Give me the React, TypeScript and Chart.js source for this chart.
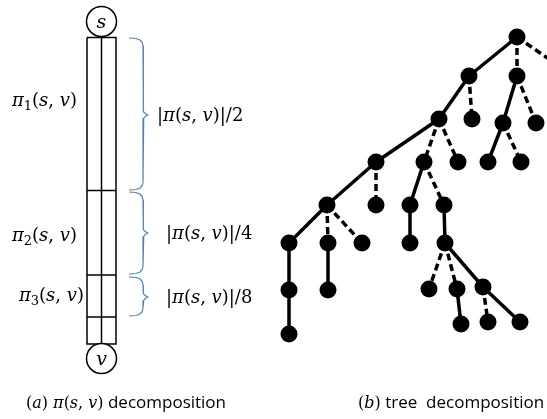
import React, { useEffect, useRef } from "react";
import { Chart, registerables } from "chart.js";

Chart.register(...registerables);

const W = 547;
const H = 419;

// ---- tree decomposition (panel b) ----
const nodeX = [517, 469, 517, 439, 472, 503, 536, 376, 424, 458, 488, 521, 327, 376, 410, 444, 289, 328, 362, 410, 445, 289, 328, 429, 457, 483, 289, 461, 488, 520];
const nodeY = [37, 76, 76, 119, 119, 123, 123, 162, 162, 162, 162, 162, 205, 205, 205, 205, 243, 243, 243, 243, 243, 290, 290, 289, 289, 287, 334, 324, 322, 322];
const solidEdges: [number, number][] = [
  [0, 1], [1, 3], [3, 7], [7, 12], [12, 16], [16, 21], [21, 26], [17, 22],
  [2, 5], [5, 10], [8, 14], [14, 19], [15, 20], [20, 25], [25, 29], [24, 27],
];
const dashedEdges: [number, number][] = [
  [0, 2], [1, 4], [3, 8], [3, 9], [2, 6], [5, 11], [7, 13], [8, 15],
  [12, 17], [12, 18], [20, 23], [20, 24], [25, 28],
];
// dashed edge leaving the picture at the right
const stubFrom = [0];
const stubToX = [562];
const stubToY = [68];

// ---- path decomposition (panel a) ----
const colLeft = 87;
const colMid = 101.5;
const colRight = 116;
const colTop = 37.5;
const colBottom = 344;
const colDividers = [190.5, 275, 317];
const endX = [101.5, 101.5];
const endY = [21.5, 358.5];

const braceTop = [38, 192, 277];
const braceBottom = [190, 274, 316];
const braceMid = [115, 233, 297];

// ---- texts ----
const labelMath = ["π_1(s, v)", "π_2(s, v)", "π_3(s, v)", "|π(s, v)|/2", "|π(s, v)|/4", "|π(s, v)|/8", "s", "v", "(a) π(s, v)", "(b)"];
const labelSans = ["", "", "", "", "", "", "", "", " decomposition", " tree  decomposition"];
const labelX = [12, 12, 19, 157, 166, 166, 101.5, 101.5, 26, 358];
const labelY = [100, 235, 295, 115, 233, 297, 21.5, 358.5, 402, 402];
const labelSize = [18, 18, 18, 18, 18, 18, 19, 19, 16, 16];
const labelCenter = [false, false, false, false, false, false, true, true, false, false];

const MATH_FONT = '"DejaVu Serif", serif';
const SANS_FONT = '"Open Sans", "Liberation Sans", sans-serif';
const SANS_SIZE = 17;

type Seg = { t: string; style: "i" | "r" | "sub" | "sans" };

function parseMath(s: string): Seg[] {
  const out: Seg[] = [];
  for (let i = 0; i < s.length; i++) {
    const c = s[i];
    if (c === "_") {
      out.push({ t: s[i + 1], style: "sub" });
      i++;
      continue;
    }
    if (/[a-zπ]/.test(c)) out.push({ t: c, style: "i" });
    else out.push({ t: c, style: "r" });
  }
  return out;
}

function fontFor(seg: Seg, size: number) {
  if (seg.style === "i") return `italic ${size}px ${MATH_FONT}`;
  if (seg.style === "sub") return `${Math.round(size * 0.7)}px ${MATH_FONT}`;
  if (seg.style === "sans") return `${SANS_SIZE}px ${SANS_FONT}`;
  return `${size}px ${MATH_FONT}`;
}

const textPlugin = {
  id: "texts",
  afterDatasetsDraw(chart: any) {
    const ctx = chart.ctx as CanvasRenderingContext2D;
    const xs = chart.scales.x;
    const ys = chart.scales.y;
    ctx.save();
    ctx.fillStyle = "#000";
    ctx.textBaseline = "alphabetic";
    ctx.textAlign = "left";
    labelMath.forEach((m, i) => {
      const size = labelSize[i];
      const segs = parseMath(m);
      if (labelSans[i]) segs.push({ t: labelSans[i], style: "sans" });
      let total = 0;
      const widths = segs.map((s) => {
        ctx.font = fontFor(s, size);
        const w = ctx.measureText(s.t).width;
        total += w;
        return w;
      });
      let x = xs.getPixelForValue(labelX[i]);
      if (labelCenter[i]) x -= total / 2;
      const base = ys.getPixelForValue(labelY[i]) + size * 0.35;
      segs.forEach((s, k) => {
        ctx.font = fontFor(s, size);
        ctx.fillText(s.t, x, s.style === "sub" ? base + size * 0.22 : base);
        x += widths[k];
      });
    });
    ctx.restore();
  },
};

function bracePoints(top: number, bottom: number, mid: number) {
  const x0 = 129;
  const xs = 143;
  const xt = 148;
  return [
    { x: x0, y: top },
    { x: x0 + 7, y: top + 0.5 },
    { x: x0 + 11, y: top + 2 },
    { x: xs - 0.7, y: top + 4.5 },
    { x: xs, y: top + 8 },
    { x: xs, y: mid - 7 },
    { x: xs + 0.7, y: mid - 3.5 },
    { x: xs + 2.5, y: mid - 1.2 },
    { x: xt, y: mid },
    { x: xs + 2.5, y: mid + 1.2 },
    { x: xs + 0.7, y: mid + 3.5 },
    { x: xs, y: mid + 7 },
    { x: xs, y: bottom - 8 },
    { x: xs - 0.7, y: bottom - 4.5 },
    { x: x0 + 11, y: bottom - 2 },
    { x: x0 + 7, y: bottom - 0.5 },
    { x: x0, y: bottom },
  ];
}

export default function App() {
  const ref = useRef<HTMLCanvasElement>(null);

  useEffect(() => {
    const canvas = ref.current;
    if (!canvas) return;
    const datasets: any[] = [];
    const lineDs = (data: { x: number; y: number }[], opts: any) => ({
      data,
      showLine: true,
      pointRadius: 0,
      pointHoverRadius: 0,
      fill: false,
      order: 2,
      ...opts,
    });

    // tree nodes
    datasets.push({
      data: nodeX.map((x, i) => ({ x, y: nodeY[i] })),
      showLine: false,
      pointRadius: 8.5,
      pointHoverRadius: 8.5,
      pointBackgroundColor: "#000",
      pointBorderColor: "#000",
      pointBorderWidth: 0,
      order: 0,
    });
    // end circles s, v
    datasets.push({
      data: endX.map((x, i) => ({ x, y: endY[i] })),
      showLine: false,
      pointRadius: 15,
      pointHoverRadius: 15,
      pointBackgroundColor: "#fff",
      pointBorderColor: "#000",
      pointBorderWidth: 1.5,
      order: 0,
    });
    solidEdges.forEach(([a, b]) =>
      datasets.push(
        lineDs(
          [
            { x: nodeX[a], y: nodeY[a] },
            { x: nodeX[b], y: nodeY[b] },
          ],
          { borderColor: "#000", borderWidth: 3.5 }
        )
      )
    );
    dashedEdges.forEach(([a, b]) =>
      datasets.push(
        lineDs(
          [
            { x: nodeX[a], y: nodeY[a] },
            { x: nodeX[b], y: nodeY[b] },
          ],
          { borderColor: "#000", borderWidth: 3.5, borderDash: [7, 4] }
        )
      )
    );
    stubFrom.forEach((a, i) =>
      datasets.push(
        lineDs(
          [
            { x: nodeX[a], y: nodeY[a] },
            { x: stubToX[i], y: stubToY[i] },
          ],
          { borderColor: "#000", borderWidth: 3.5, borderDash: [7, 4] }
        )
      )
    );
    // column
    datasets.push(
      lineDs(
        [
          { x: colLeft, y: colTop },
          { x: colRight, y: colTop },
          { x: colRight, y: colBottom },
          { x: colLeft, y: colBottom },
          { x: colLeft, y: colTop },
        ],
        { borderColor: "#000", borderWidth: 1.5 }
      )
    );
    datasets.push(
      lineDs(
        [
          { x: colMid, y: colTop },
          { x: colMid, y: colBottom },
        ],
        { borderColor: "#000", borderWidth: 1.5 }
      )
    );
    colDividers.forEach((y) =>
      datasets.push(
        lineDs(
          [
            { x: colLeft, y },
            { x: colRight, y },
          ],
          { borderColor: "#000", borderWidth: 1.5 }
        )
      )
    );
    // braces
    braceTop.forEach((t, i) =>
      datasets.push(
        lineDs(bracePoints(t, braceBottom[i], braceMid[i]), {
          borderColor: "#4f81bd",
          borderWidth: 1.2,
          borderJoinStyle: "round",
        })
      )
    );

    const chart = new Chart(canvas, {
      type: "scatter",
      data: { datasets },
      options: {
        responsive: false,
        animation: false,
        events: [],
        layout: { padding: 0, autoPadding: false },
        plugins: { legend: { display: false }, tooltip: { enabled: false } },
        scales: {
          x: { type: "linear", min: 0, max: W, display: false },
          y: { type: "linear", min: 0, max: H, reverse: true, display: false },
        },
      },
      plugins: [textPlugin],
    });
    return () => chart.destroy();
  }, []);

  return (
    <div style={{ position: "fixed", left: 0, top: 0, width: W, height: H, background: "#fff" }}>
      <canvas ref={ref} width={W} height={H} style={{ width: W, height: H, display: "block" }} />
    </div>
  );
}
